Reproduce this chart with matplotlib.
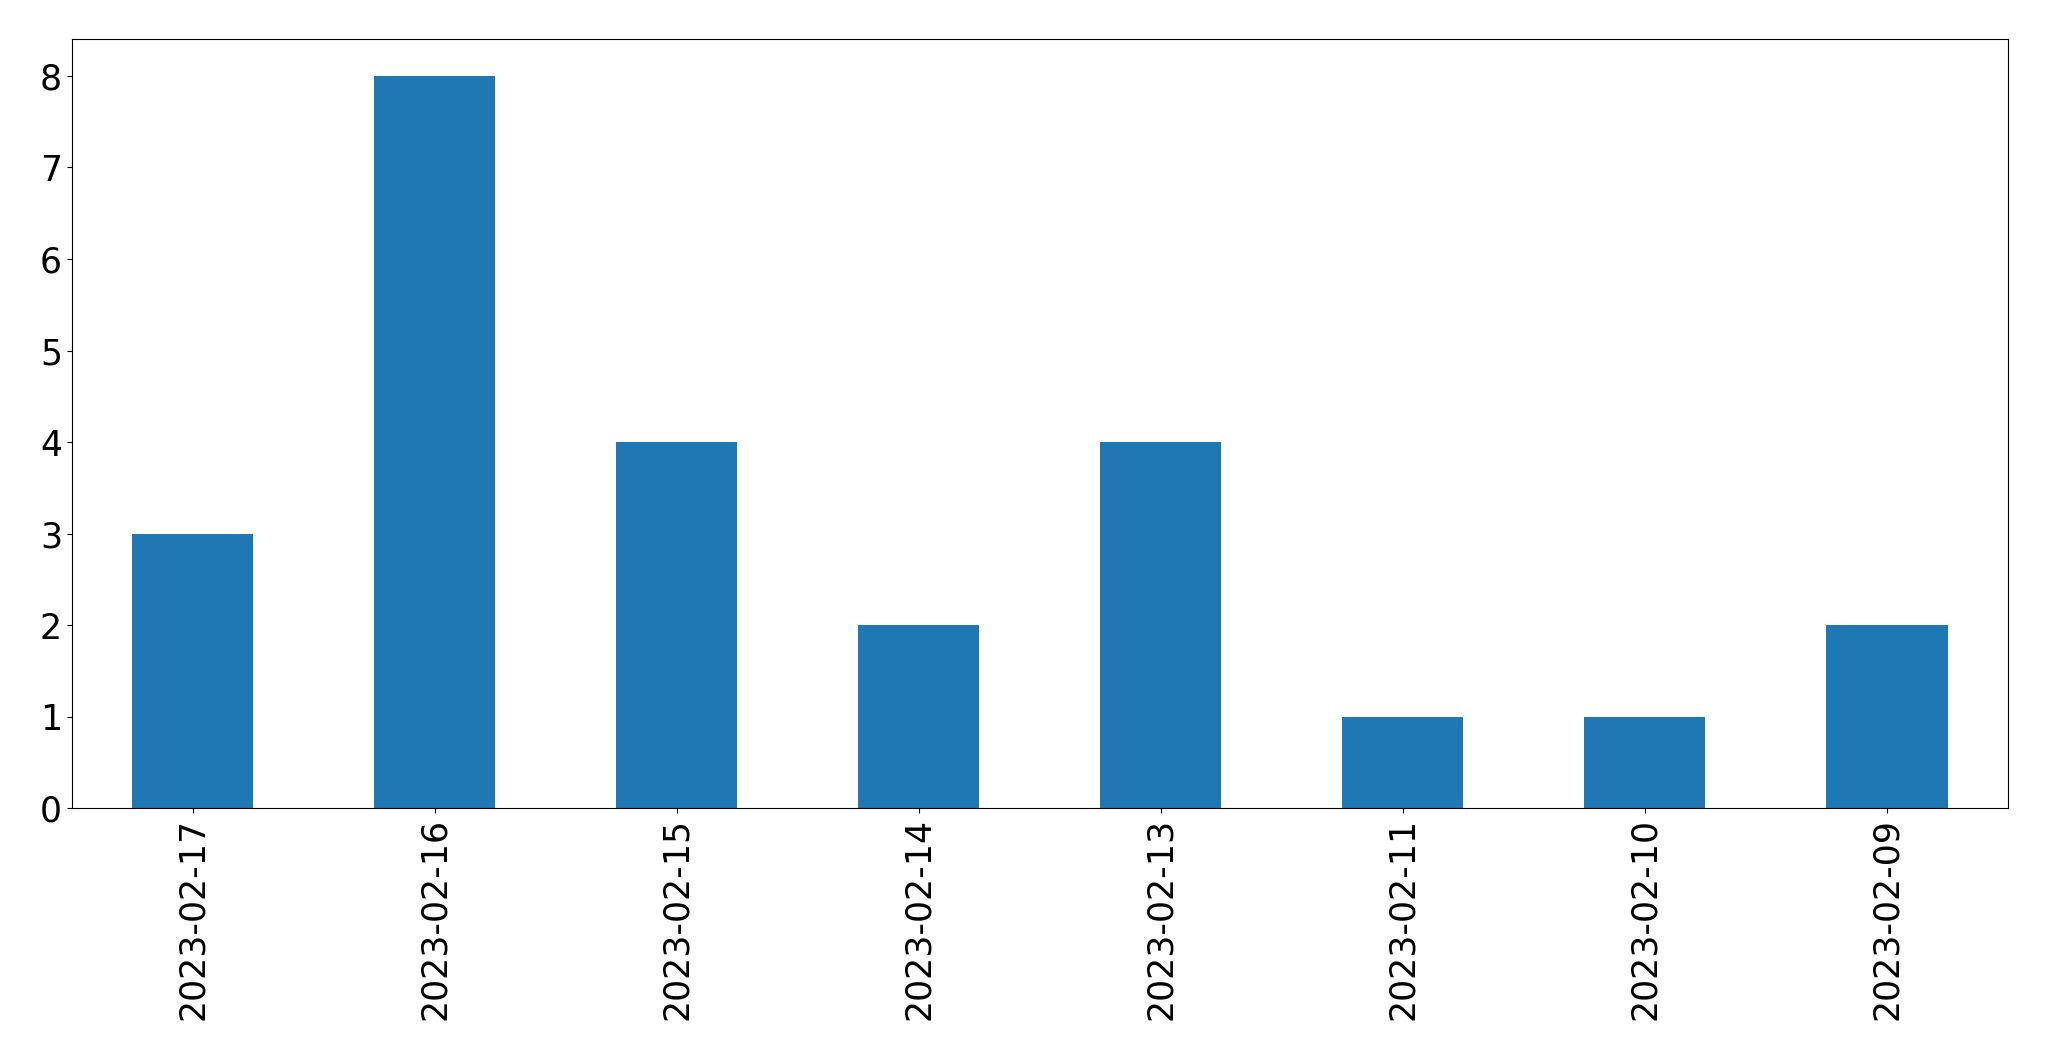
import matplotlib
matplotlib.use('Agg')
import matplotlib.pyplot as plt
import numpy as np

dates = ['2023-02-17', '2023-02-16', '2023-02-15', '2023-02-14',
         '2023-02-13', '2023-02-11', '2023-02-10', '2023-02-09']
counts = [3, 8, 4, 2, 4, 1, 1, 2]

fig, ax = plt.subplots(figsize=(20.49, 10.61), dpi=100)
x = np.arange(len(dates))
ax.bar(x, counts, width=0.5, color='#1f77b4')
ax.set_xlim(-0.5, len(dates) - 0.5)
ax.set_xticks(x)
ax.set_xticklabels(dates, rotation=90)
ax.tick_params(labelsize=25)
fig.subplots_adjust(left=0.035, right=0.98, top=0.963, bottom=0.238)
fig.savefig('out.png', dpi=100)
